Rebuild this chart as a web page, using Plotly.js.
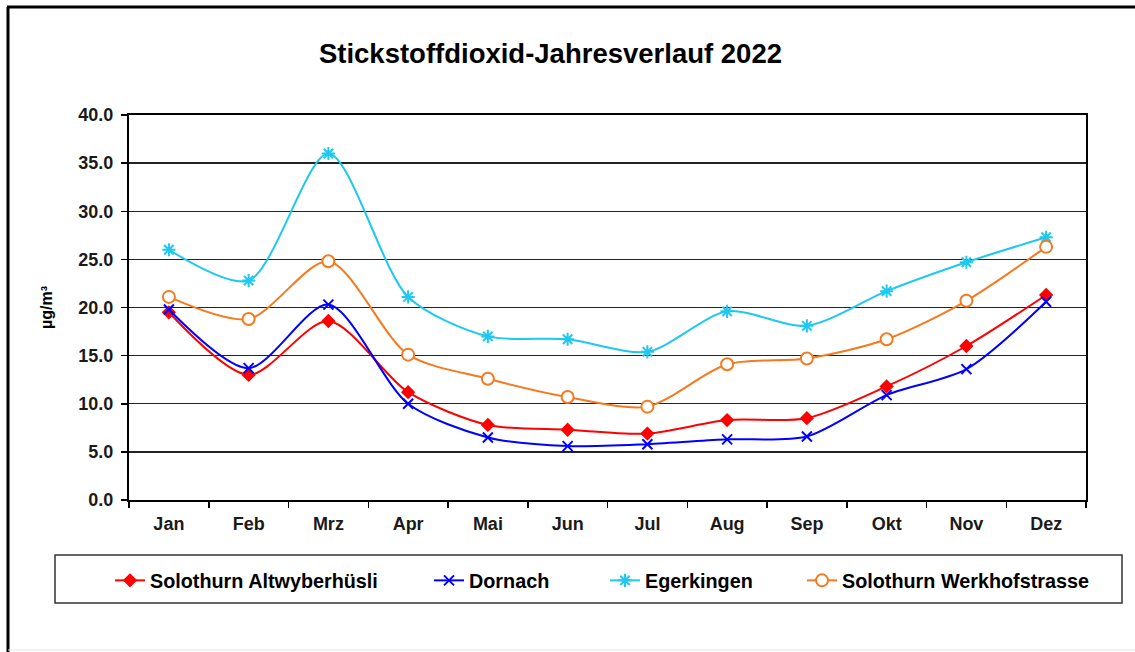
<!DOCTYPE html>
<html>
<head>
<meta charset="utf-8">
<script src="https://cdn.plot.ly/plotly-3.0.1.min.js"></script>
<style>html,body{margin:0;padding:0;background:#fff;}#chart{width:1135px;height:652px;}</style>
</head>
<body>
<div id="chart"></div>
<script>
const months = ["Jan","Feb","Mrz","Apr","Mai","Jun","Jul","Aug","Sep","Okt","Nov","Dez"];
const seriesNames = ["Solothurn Altwyberhüsli","Dornach","Egerkingen","Solothurn Werkhofstrasse"];
const altwyberhuesli = [19.5,13.0,18.6,11.2,7.8,7.3,6.9,8.3,8.5,11.8,16.0,21.3];
const dornach = [19.8,13.7,20.3,10.0,6.5,5.6,5.8,6.3,6.6,10.9,13.6,20.6];
const egerkingen = [26.0,22.8,36.0,21.1,17.0,16.7,15.4,19.6,18.1,21.7,24.7,27.3];
const werkhofstrasse = [21.1,18.8,24.8,15.1,12.6,10.7,9.7,14.1,14.7,16.7,20.7,26.3];
const yTicks = [0,5,10,15,20,25,30,35,40];

const font = "Liberation Sans, Arial, sans-serif";
function tr(name, y, color, marker, leg) {
  return {
    type: "scatter", mode: "lines+markers", x: months, y: y, name: name,
    line: {color: color, width: 2, shape: "spline", smoothing: 0.8},
    marker: marker, legend: leg, cliponaxis: false
  };
}
const traces = [
  tr(seriesNames[0], altwyberhuesli, "#ff0000", {symbol: "diamond", size: 11, color: "#ff0000"}, "legend"),
  tr(seriesNames[1], dornach, "#0000ff", {symbol: "x-thin-open", size: 10, color: "#0000ff", line: {color: "#0000ff", width: 2}}, "legend2"),
  tr(seriesNames[2], egerkingen, "#1ec8f0", {symbol: "asterisk-open", size: 11, color: "#1ec8f0", line: {color: "#1ec8f0", width: 2}}, "legend3"),
  tr(seriesNames[3], werkhofstrasse, "#f57a1e", {symbol: "circle", size: 12, color: "#ffffff", line: {color: "#f57a1e", width: 2}}, "legend4")
];

const L = 129, R = 1086, T = 115, B = 500;
const px = v => (v - L) / (R - L);
const py = v => (B - v) / (B - T);
const legFont = {family: font, size: 19.8, color: "#000", weight: "bold"};
function leg(xpx) {
  return {x: px(xpx), y: py(561), xanchor: "left", yanchor: "top", orientation: "h",
    bgcolor: "rgba(0,0,0,0)", borderwidth: 0, font: legFont, itemclick: false};
}
const tickFont = {family: font, size: 18, color: "#1a1a1a", weight: "bold"};

const layout = {
  width: 1135, height: 652,
  margin: {l: L, r: 1135 - R, t: T, b: 652 - B},
  paper_bgcolor: "#fff", plot_bgcolor: "#fff",
  font: {family: font, color: "#000"},
  title: {text: "<b>Stickstoffdioxid-Jahresverlauf 2022</b>", font: {family: font, size: 27.5, color: "#000"},
    x: 0.485, xanchor: "center", y: 1 - 53/652, yanchor: "middle"},
  showlegend: true,
  legend: leg(110), legend2: leg(429), legend3: leg(605), legend4: leg(802),
  xaxis: {
    type: "category", range: [-0.5, 11.5], showgrid: false,
    showline: true, linecolor: "#000", linewidth: 2, mirror: true,
    ticks: "outside", tickson: "boundaries", ticklen: 6, tickwidth: 1.5, tickcolor: "#000",
    ticklabelstandoff: 6,
    tickfont: tickFont, fixedrange: true
  },
  yaxis: {
    range: [0, 40], tickvals: yTicks, tickformat: ".1f",
    showgrid: true, gridcolor: "#222", gridwidth: 1.3, zeroline: false,
    showline: true, linecolor: "#000", linewidth: 2, mirror: true,
    ticks: "outside", ticklen: 6, tickwidth: 1.5, tickcolor: "#000",
    ticklabelstandoff: 4,
    tickfont: tickFont,
    title: {text: "<b>µg/m³</b>", font: {family: font, size: 16, color: "#000"}, standoff: 22},
    fixedrange: true
  },
  shapes: [
    {type: "rect", xref: "paper", yref: "paper", x0: px(55), x1: px(1122), y0: py(555), y1: py(603),
      line: {color: "#333", width: 1.5}, fillcolor: "rgba(0,0,0,0)", layer: "below"},
    {type: "line", xref: "paper", yref: "paper", x0: px(8), x1: px(8), y0: py(7), y1: py(652), line: {color: "#000", width: 3}},
    {type: "line", xref: "paper", yref: "paper", x0: px(7), x1: px(1135), y0: py(7), y1: py(7), line: {color: "#000", width: 3}},
    {type: "line", xref: "paper", yref: "paper", x0: px(8), x1: px(1135), y0: py(650), y1: py(650), line: {color: "#e6e6e6", width: 1}}
  ]
};
Plotly.newPlot("chart", traces, layout, {displayModeBar: false, staticPlot: true});
</script>
</body>
</html>
